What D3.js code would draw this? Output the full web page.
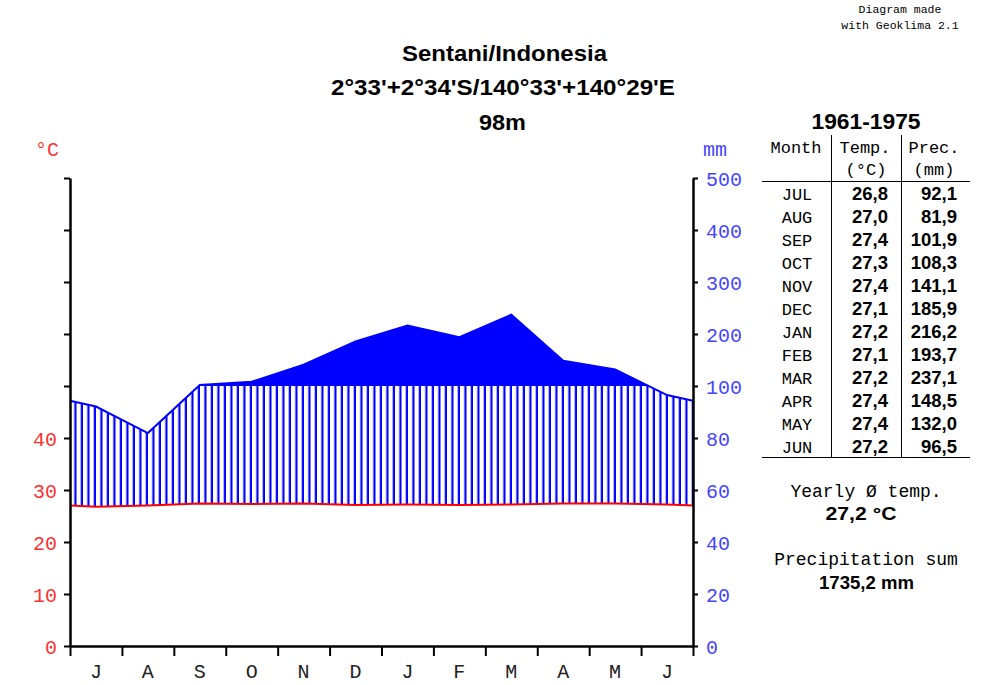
<!DOCTYPE html>
<html><head><meta charset="utf-8">
<script src="https://cdn.jsdelivr.net/npm/d3@7"></script>
<style>body{margin:0;background:#fff}svg{display:block}</style>
</head><body><svg id="c" width="1000" height="685"></svg>
<script>
// ---- data ----
const months = ["JUL","AUG","SEP","OCT","NOV","DEC","JAN","FEB","MAR","APR","MAY","JUN"];
const monthLetters = ["J","A","S","O","N","D","J","F","M","A","M","J"];
const tempValues = [26.8,27.0,27.4,27.3,27.4,27.1,27.2,27.1,27.2,27.4,27.4,27.2];
const precValues = [92.1,81.9,101.9,108.3,141.1,185.9,216.2,193.7,237.1,148.5,132.0,96.5];
const tempTicks = [0,10,20,30,40,50,60,70,80,90];
const tempTickLabels = ["0","10","20","30","40","","","","",""];
const precTicks = [0,20,40,60,80,100,200,300,400,500];
const station = "Sentani/Indonesia";
const coords = "2°33'+2°34'S/140°33'+140°29'E";
const elevation = "98m";
const period = "1961-1975";
const credit = ["Diagram made","with Geoklima 2.1"];

// ---- setup ----
const MONO = "'Liberation Mono','Courier New',monospace";
const SANS = "'Liberation Sans',Arial,sans-serif";
const svg = d3.select("#c");
const x = d3.scaleLinear().domain([0,12]).range([70,693]);
const yT = d3.scaleLinear().domain([0,90]).range([646,178]);
const yP = d3.scaleLinear().domain([0,100,500]).range([646,386,178]);

const n = months.length;
const edgeT = (tempValues[0]+tempValues[n-1])/2;
const edgeP = (precValues[0]+precValues[n-1])/2;
const series = [{m:0,t:edgeT,p:edgeP}]
  .concat(months.map((mm,i)=>({m:i+0.5,t:tempValues[i],p:precValues[i]})))
  .concat([{m:12,t:edgeT,p:edgeP}]);

const defs = svg.append("defs");
const pat = defs.append("pattern").attr("id","hatch").attr("patternUnits","userSpaceOnUse")
  .attr("x",x(0)).attr("y",0).attr("width",6.5).attr("height",20);
pat.append("rect").attr("x",4.3).attr("y",0).attr("width",2.2).attr("height",20).attr("fill","#0000ff");
defs.append("clipPath").attr("id","below100").append("rect")
  .attr("x",0).attr("y",yP(100)).attr("width",1000).attr("height",685);
defs.append("clipPath").attr("id","above100").append("rect")
  .attr("x",0).attr("y",0).attr("width",1000).attr("height",yP(100));

// humid hatch (temp line -> precipitation line, below 100 mm)
svg.append("path").datum(series)
  .attr("clip-path","url(#below100)")
  .attr("fill","url(#hatch)")
  .attr("d",d3.area().x(d=>x(d.m)).y0(d=>yT(d.t)).y1(d=>yP(d.p)));
// perhumid solid (above 100 mm)
svg.append("path").datum(series)
  .attr("clip-path","url(#above100)")
  .attr("fill","#0000ff")
  .attr("d",d3.area().x(d=>x(d.m)).y0(yP(100)).y1(d=>yP(d.p)));
// precipitation line
svg.append("path").datum(series).attr("fill","none").attr("stroke","#0000ff").attr("stroke-width",2)
  .attr("d",d3.line().x(d=>x(d.m)).y(d=>yP(d.p)));
// temperature line
svg.append("path").datum(series).attr("fill","none").attr("stroke","#ff0000").attr("stroke-width",2)
  .attr("d",d3.line().x(d=>x(d.m)).y(d=>yT(d.t)));

// ---- axes ----
function styleAxis(g,color){
  g.select(".domain").attr("stroke","#000").attr("stroke-width",2.5);
  g.selectAll(".tick line").attr("stroke","#000").attr("stroke-width",2);
  g.selectAll(".tick text").attr("fill",color).style("font-family",MONO).style("font-size","20px").attr("dy","0.38em");
}
const gL = svg.append("g").attr("transform",`translate(${x(0)},0)`)
  .call(d3.axisLeft(yT).tickValues(tempTicks).tickSize(6).tickSizeOuter(0).tickPadding(7)
    .tickFormat((d,i)=>tempTickLabels[i]));
styleAxis(gL,"#ff3030");
const gR = svg.append("g").attr("transform",`translate(${x(12)},0)`)
  .call(d3.axisRight(yP).tickValues(precTicks).tickSize(5).tickSizeOuter(0).tickPadding(8)
    .tickFormat(d3.format("d")));
styleAxis(gR,"#4545ff");
const gB = svg.append("g").attr("transform",`translate(0,${yT(0)})`)
  .call(d3.axisBottom(x).tickValues(d3.range(13)).tickSize(10).tickSizeOuter(0).tickFormat(""));
gB.select(".domain").attr("stroke","#000").attr("stroke-width",2.5);
gB.selectAll(".tick line").attr("stroke","#000").attr("stroke-width",2);
svg.append("g").selectAll("text").data(monthLetters).join("text")
  .attr("x",(d,i)=>x(i+0.5)).attr("y",678).attr("text-anchor","middle")
  .attr("fill","#222").style("font-family",MONO).style("font-size","20px").text(d=>d);

svg.append("text").attr("x",35).attr("y",156).attr("fill","#ff3030")
  .style("font-family",MONO).style("font-size","20px").text("°C");
svg.append("text").attr("x",703).attr("y",156).attr("fill","#4545ff")
  .style("font-family",MONO).style("font-size","20px").text("mm");

// ---- titles ----
function txt(s,xx,yy,font,size,weight,anchor,len){
  const t = svg.append("text").attr("x",xx).attr("y",yy).attr("text-anchor",anchor||"middle")
    .style("font-family",font).style("font-size",size+"px").style("font-weight",weight||"normal")
    .attr("fill","#000").text(s);
  if(len) t.attr("textLength",len).attr("lengthAdjust","spacingAndGlyphs");
  return t;
}
txt(credit[0],900,13,MONO,11.5);
txt(credit[1],900,29,MONO,11.5);
txt(station,504.5,60.5,SANS,21.5,"bold","middle",205);
txt(coords,503,95,SANS,21.5,"bold","middle",344);
txt(elevation,502.5,129.5,SANS,21.5,"bold","middle",47);
txt(period,866,128.5,SANS,21.5,"bold","middle",109);

// ---- table ----
const fmt = v=>d3.format(".1f")(v).replace(".",",");
txt("Month",796,153,MONO,17);
txt("Temp.",865,153,MONO,17);
txt("Prec.",934,153,MONO,17);
txt("(°C)",866,175,MONO,17);
txt("(mm)",934,175,MONO,17);
const line = (x1,y1,x2,y2)=>svg.append("line").attr("x1",x1).attr("y1",y1).attr("x2",x2).attr("y2",y2)
  .attr("stroke","#000").attr("stroke-width",1);
line(831.5,135,831.5,457); line(901.5,135,901.5,457);
line(762,181.5,970,181.5); line(762,457.5,970,457.5);
months.forEach((m,i)=>{
  const yy = 199.5 + i*23;
  txt(m,797,yy,MONO,17);
  txt(fmt(tempValues[i]),888,yy,SANS,18.5,"bold","end");
  txt(fmt(precValues[i]),957,yy,SANS,18.5,"bold","end");
});

// ---- summary ----
const meanT = d3.mean(tempValues);
const sumP = d3.sum(precValues);
txt("Yearly Ø temp.",866,497,MONO,18);
txt(fmt(meanT)+" °C",861,520,SANS,18.5,"bold","middle",71);
txt("Precipitation sum",866,565,MONO,18);
txt(fmt(sumP)+" mm",866.5,589,SANS,18.5,"bold","middle",95);
</script></body></html>
